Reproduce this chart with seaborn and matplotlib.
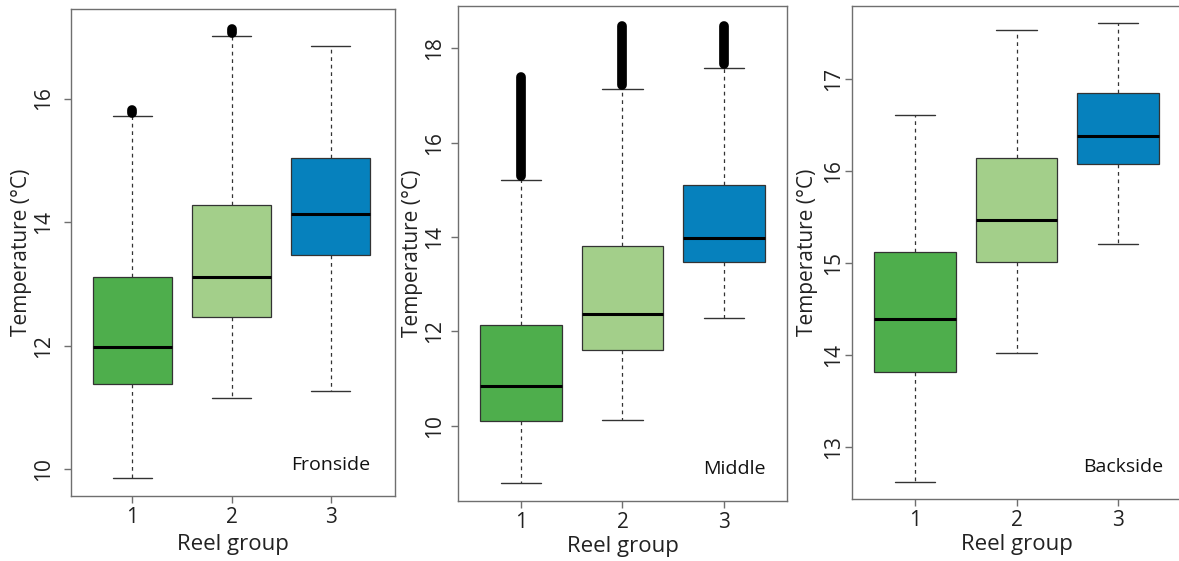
import matplotlib
matplotlib.use("Agg")
import matplotlib.pyplot as plt
import seaborn as sns
import pandas as pd

# ---- data (five-number summaries) ----
groups = ["1", "2", "3"]
panel_names = ["Fronside", "Middle", "Backside"]

front_lo  = [9.85, 11.15, 11.26]
front_q1  = [11.38, 12.46, 13.47]
front_med = [11.97, 13.11, 14.13]
front_q3  = [13.11, 14.28, 15.04]
front_hi  = [15.72, 17.01, 16.85]
front_out_lo = [15.77, 17.06, None]
front_out_hi = [15.81, 17.12, None]

mid_lo  = [8.78, 10.11, 12.28]
mid_q1  = [10.09, 11.60, 13.46]
mid_med = [10.84, 12.36, 13.98]
mid_q3  = [12.14, 13.80, 15.10]
mid_hi  = [15.21, 17.13, 17.58]
mid_out_lo = [15.30, 17.22, 17.66]
mid_out_hi = [17.40, 18.47, 18.47]

back_lo  = [12.62, 14.02, 15.20]
back_q1  = [13.81, 15.01, 16.07]
back_med = [14.39, 15.46, 16.38]
back_q3  = [15.12, 16.14, 16.84]
back_hi  = [16.61, 17.53, 17.61]
back_out_lo = [None, None, None]
back_out_hi = [None, None, None]

front_yticks = [10, 12, 14, 16]
mid_yticks = [10, 12, 14, 16, 18]
back_yticks = [13, 14, 15, 16, 17]

colors = ["#4EAE4C", "#A3CF8A", "#0681BD"]

# ---- style ----
sns.set_theme(style="white")
plt.rcParams["font.family"] = ["Open Sans", "DejaVu Sans"]

W, H = 1179, 561
fig = plt.figure(figsize=(W / 100, H / 100), dpi=100)

def frac(l, r, t, b):
    return [l / W, (H - b) / H, (r - l) / W, (b - t) / H]

panels = [
    dict(name=panel_names[0], lo=front_lo, q1=front_q1, med=front_med, q3=front_q3, hi=front_hi,
         olo=front_out_lo, ohi=front_out_hi, yticks=front_yticks, ylim=(9.565, 17.45),
         rect=frac(71, 395, 9, 496), xlim=(-0.62, 2.65), tx=0.925, ylab=-0.119,
         xlab=-0.078, ypad=7),
    dict(name=panel_names[1], lo=mid_lo, q1=mid_q1, med=mid_med, q3=mid_q3, hi=mid_hi,
         olo=mid_out_lo, ohi=mid_out_hi, yticks=mid_yticks, ylim=(8.40, 18.90),
         rect=frac(458, 787, 6, 501), xlim=(-0.62, 2.62), tx=0.935, ylab=-0.105,
         xlab=-0.0707, ypad=4.3),
    dict(name=panel_names[2], lo=back_lo, q1=back_q1, med=back_med, q3=back_q3, hi=back_hi,
         olo=back_out_lo, ohi=back_out_hi, yticks=back_yticks, ylim=(12.43, 17.79),
         rect=frac(852, 1181, 6, 499), xlim=(-0.62, 2.62), tx=0.947, ylab=-0.104,
         xlab=-0.071, ypad=1.0),
]

frame_col = "#6f6f6f"
line_col = "#333333"

for p in panels:
    ax = fig.add_axes(p["rect"])
    rows = []
    for i, g in enumerate(groups):
        for v in (p["lo"][i], p["q1"][i], p["med"][i], p["q3"][i], p["hi"][i]):
            rows.append({"group": g, "temp": v})
    df = pd.DataFrame(rows)
    sns.boxplot(data=df, x="group", y="temp", hue="group", order=groups, hue_order=groups,
                palette=colors, saturation=1, width=0.8, whis=(0, 100), showfliers=False,
                linecolor=line_col, linewidth=0.9, legend=False, ax=ax,
                whiskerprops=dict(linestyle=(0, (3, 3)), color=line_col, linewidth=0.9),
                capprops=dict(color=line_col, linewidth=1.0),
                medianprops=dict(color="black", linewidth=2.2),
                boxprops=dict(edgecolor=line_col, linewidth=0.9))
    # outlier streaks (dense open circles in the original)
    xs, ylo, yhi = [], [], []
    for i in range(3):
        if p["olo"][i] is not None:
            xs.append(i); ylo.append(p["olo"][i]); yhi.append(p["ohi"][i])
    if xs:
        ax.vlines(xs, ylo, yhi, colors="black", linewidth=7, capstyle="round", zorder=5)

    ax.set_xlim(*p["xlim"])
    ax.set_ylim(*p["ylim"])
    ax.set_yticks(p["yticks"])
    ax.set_yticklabels([str(t) for t in p["yticks"]])
    ax.set_xlabel("Reel group", fontsize=16, color="#222222")
    ax.xaxis.set_label_coords(0.5, p["xlab"])
    ax.set_ylabel("Temperature (°C)", fontsize=15, color="#222222")
    ax.yaxis.set_label_coords(p["ylab"], 0.5)
    for s in ax.spines.values():
        s.set_visible(True)
        s.set_color(frame_col)
        s.set_linewidth(1.0)
    ax.tick_params(axis="both", direction="out", length=5, width=1.0, color=frame_col,
                   labelsize=15, labelcolor="#222222")
    ax.tick_params(axis="x", pad=3)
    ax.tick_params(axis="y", pad=p["ypad"])
    ax.tick_params(axis="both", which="both", left=True, bottom=True)
    for lab in ax.get_yticklabels():
        lab.set_rotation(90)
        lab.set_va("center")
    ax.text(p["tx"], 0.064, p["name"], transform=ax.transAxes, ha="right", va="center",
            fontsize=14, color="#111111")

fig.savefig("out.png", dpi=100)
